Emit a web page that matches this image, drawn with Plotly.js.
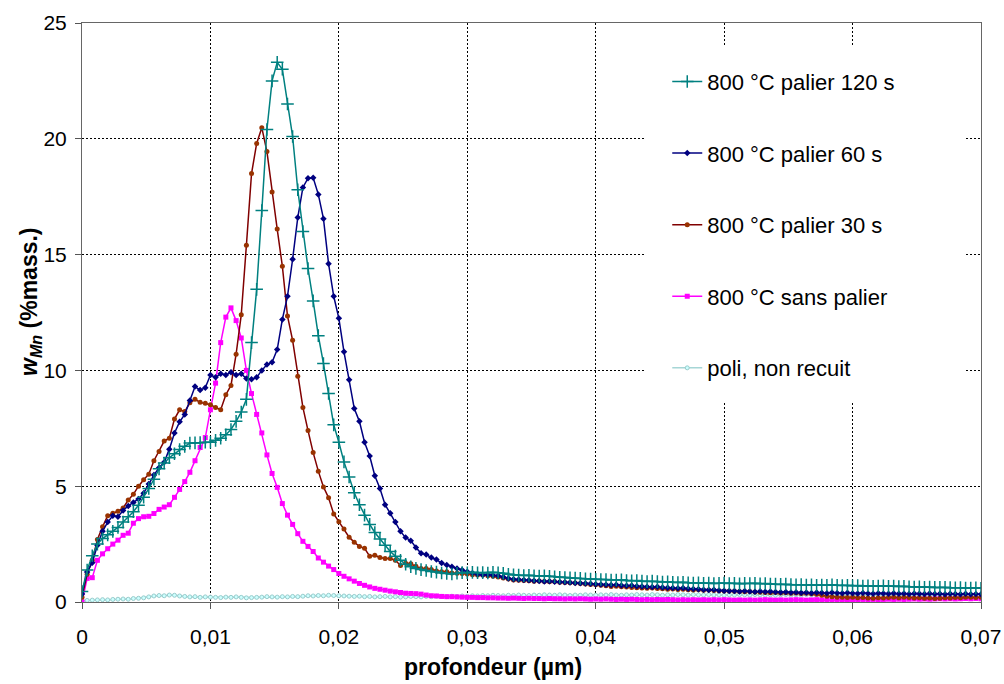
<!DOCTYPE html>
<html>
<head>
<meta charset="utf-8">
<script src="https://cdn.plot.ly/plotly-3.0.1.min.js"></script>
<style>html,body{margin:0;padding:0;background:#fff;}#chart{width:1004px;height:684px;}</style>
</head>
<body>
<div id="chart"></div>
<script>
// depth (µm)
const depth = [
0,0.0004,0.0008,0.0012,0.0016,0.002,0.0024,0.0028,0.0032,0.0036,
0.004,0.0044,0.0048,0.0052,0.0056,0.006,0.0064,0.0068,0.0072,0.0076,
0.008,0.0084,0.0088,0.0092,0.0096,0.01,0.0104,0.0108,0.0112,0.0116,
0.012,0.0124,0.0128,0.0132,0.0136,0.014,0.0144,0.0148,0.0152,0.0156,
0.016,0.0164,0.0168,0.0172,0.0176,0.018,0.0184,0.0188,0.0192,0.0196,
0.02,0.0204,0.0208,0.0212,0.0216,0.022,0.0224,0.0228,0.0232,0.0236,
0.024,0.0244,0.0248,0.0252,0.0256,0.026,0.0264,0.0268,0.0272,0.0276,
0.028,0.0284,0.0288,0.0292,0.0296,0.03,0.0304,0.0308,0.0312,0.0316,
0.032,0.0324,0.0328,0.0332,0.0336,0.034,0.0344,0.0348,0.0352,0.0356,
0.036,0.0364,0.0368,0.0372,0.0376,0.038,0.0384,0.0388,0.0392,0.0396,
0.04,0.0404,0.0408,0.0412,0.0416,0.042,0.0424,0.0428,0.0432,0.0436,
0.044,0.0444,0.0448,0.0452,0.0456,0.046,0.0464,0.0468,0.0472,0.0476,
0.048,0.0484,0.0488,0.0492,0.0496,0.05,0.0504,0.0508,0.0512,0.0516,
0.052,0.0524,0.0528,0.0532,0.0536,0.054,0.0544,0.0548,0.0552,0.0556,
0.056,0.0564,0.0568,0.0572,0.0576,0.058,0.0584,0.0588,0.0592,0.0596,
0.06,0.0604,0.0608,0.0612,0.0616,0.062,0.0624,0.0628,0.0632,0.0636,
0.064,0.0644,0.0648,0.0652,0.0656,0.066,0.0664,0.0668,0.0672,0.0676,
0.068,0.0684,0.0688,0.0692,0.0696,0.07
];

// w_Mn (% mass.)
const palier120 = [
0.45,1.38,2.0,2.5,2.74,2.9,3.05,3.22,3.45,3.68,
3.9,4.18,4.52,4.9,5.3,5.75,6.0,6.23,6.4,6.58,
6.72,6.86,6.87,6.88,6.9,6.9,6.98,7.07,7.22,7.45,
7.8,8.2,8.75,11.2,13.5,16.9,20.4,22.5,23.3,23.0,
21.5,20.1,17.8,16.0,14.4,13.0,11.5,10.3,9.0,7.65,
6.9,6.05,5.4,4.72,4.2,3.75,3.35,3.0,2.72,2.45,
2.18,1.98,1.8,1.63,1.52,1.45,1.4,1.36,1.32,1.29,
1.25,1.23,1.21,1.24,1.27,1.26,1.28,1.26,1.27,1.25,
1.28,1.26,1.24,1.2,1.17,1.16,1.14,1.15,1.13,1.12,
1.13,1.11,1.09,1.07,1.06,1.04,1.03,1.02,1.0,0.99,
0.98,0.97,0.97,0.95,0.95,0.96,0.93,0.92,0.93,0.9,
0.88,0.9,0.88,0.86,0.87,0.85,0.84,0.85,0.83,0.82,
0.83,0.81,0.82,0.8,0.81,0.82,0.8,0.81,0.79,0.81,
0.8,0.81,0.79,0.8,0.78,0.77,0.76,0.77,0.75,0.74,
0.75,0.73,0.74,0.72,0.73,0.72,0.74,0.72,0.71,0.72,
0.7,0.71,0.69,0.7,0.68,0.69,0.7,0.68,0.69,0.67,
0.68,0.66,0.65,0.66,0.64,0.65,0.63,0.63,0.64,0.62,
0.61,0.62,0.6,0.6,0.61,0.59
];

const palier60 = [
0.35,1.3,1.7,2.45,3.05,3.45,3.72,3.68,3.95,4.15,
4.3,4.45,4.7,5.1,5.48,5.8,6.03,6.6,7.3,7.78,
8.1,8.7,9.3,9.15,9.25,9.8,9.7,9.85,9.8,9.92,
9.8,9.85,9.65,9.62,9.7,10.0,10.25,10.35,10.9,12.2,
13.2,14.8,16.6,17.9,18.3,18.32,17.6,16.55,14.6,13.2,
12.25,10.8,9.6,8.35,7.8,6.9,6.3,5.45,4.9,4.2,
3.83,3.45,3.05,2.78,2.65,2.35,2.1,2.05,1.92,1.83,
1.68,1.6,1.52,1.45,1.38,1.31,1.25,1.2,1.17,1.18,
1.16,1.13,1.08,1.02,0.98,0.97,0.95,0.94,0.92,0.91,
0.89,0.9,0.87,0.86,0.85,0.84,0.82,0.81,0.8,0.79,
0.77,0.76,0.75,0.73,0.74,0.71,0.7,0.71,0.68,0.67,
0.66,0.65,0.66,0.63,0.62,0.6,0.59,0.6,0.57,0.56,
0.55,0.53,0.52,0.53,0.5,0.49,0.48,0.47,0.45,0.47,
0.45,0.44,0.46,0.44,0.45,0.43,0.42,0.43,0.41,0.42,
0.4,0.41,0.39,0.41,0.4,0.38,0.41,0.39,0.38,0.4,
0.38,0.37,0.39,0.37,0.36,0.38,0.37,0.36,0.38,0.36,
0.37,0.35,0.37,0.36,0.35,0.37,0.35,0.36,0.34,0.36,
0.35,0.34,0.36,0.34,0.35,0.33
];

const palier30 = [
0.2,1.2,1.8,2.7,3.25,3.72,3.83,3.92,4.06,4.4,
4.65,5.0,5.28,5.52,6.1,6.5,6.95,7.07,7.9,8.3,
8.22,8.6,8.75,8.62,8.58,8.52,8.4,8.3,8.95,9.35,
10.7,12.4,15.4,18.5,19.8,20.48,19.45,17.7,16.1,14.5,
12.35,11.3,9.75,8.4,7.4,6.45,5.65,4.97,4.5,3.8,
3.47,3.15,2.8,2.58,2.4,2.32,1.98,2.02,1.92,1.88,
1.88,1.8,1.58,1.67,1.65,1.54,1.45,1.45,1.4,1.34,
1.31,1.31,1.25,1.24,1.23,1.21,1.18,1.17,1.17,1.13,
1.11,1.08,1.04,0.99,0.95,0.94,0.93,0.92,0.9,0.91,
0.88,0.87,0.88,0.85,0.84,0.83,0.82,0.8,0.78,0.76,
0.74,0.72,0.7,0.67,0.68,0.66,0.65,0.63,0.62,0.6,
0.59,0.6,0.58,0.57,0.55,0.56,0.54,0.55,0.53,0.52,
0.53,0.51,0.52,0.5,0.49,0.48,0.47,0.46,0.45,0.44,
0.45,0.43,0.42,0.41,0.4,0.41,0.39,0.4,0.38,0.39,
0.37,0.38,0.36,0.33,0.29,0.25,0.23,0.21,0.2,0.19,
0.2,0.18,0.19,0.17,0.16,0.18,0.17,0.19,0.2,0.18,
0.2,0.19,0.17,0.18,0.16,0.17,0.15,0.16,0.18,0.17,
0.19,0.18,0.2,0.2,0.19,0.2
];

const sansPalier = [
0.0,1.02,1.05,1.8,2.08,2.3,2.5,2.67,2.88,2.97,
3.4,3.6,3.68,3.7,3.82,4.0,4.1,4.2,4.52,4.86,
5.2,5.6,6.1,6.67,7.1,8.3,9.45,11.2,12.3,12.7,
12.15,11.4,10.0,9.0,8.1,7.3,6.35,5.55,4.95,4.25,
3.75,3.35,2.95,2.62,2.4,2.18,1.9,1.72,1.55,1.4,
1.23,1.11,1.0,0.9,0.8,0.72,0.65,0.59,0.55,0.51,
0.47,0.44,0.41,0.38,0.37,0.36,0.34,0.3,0.27,0.26,
0.24,0.23,0.23,0.22,0.21,0.2,0.2,0.19,0.19,0.18,
0.18,0.17,0.17,0.16,0.17,0.16,0.15,0.16,0.15,0.15,
0.14,0.15,0.14,0.14,0.13,0.14,0.13,0.14,0.13,0.12,
0.13,0.12,0.13,0.12,0.11,0.12,0.11,0.12,0.11,0.1,
0.11,0.1,0.11,0.1,0.11,0.1,0.09,0.1,0.09,0.1,
0.09,0.1,0.09,0.1,0.09,0.1,0.09,0.08,0.09,0.08,
0.09,0.08,0.09,0.1,0.09,0.08,0.09,0.08,0.09,0.1,
0.09,0.08,0.09,0.1,0.09,0.08,0.09,0.1,0.09,0.1,
0.09,0.1,0.11,0.1,0.11,0.1,0.11,0.12,0.11,0.12,
0.11,0.12,0.13,0.12,0.13,0.12,0.13,0.14,0.13,0.14,
0.13,0.14,0.15,0.14,0.15,0.14
];

const poliNonRecuit = [
0.05,0.07,0.08,0.09,0.1,0.09,0.11,0.12,0.13,0.12,
0.15,0.16,0.18,0.22,0.26,0.28,0.27,0.3,0.29,0.26,
0.24,0.22,0.23,0.2,0.22,0.21,0.2,0.19,0.21,0.2,
0.22,0.2,0.18,0.19,0.2,0.21,0.23,0.22,0.21,0.23,
0.22,0.24,0.23,0.25,0.27,0.26,0.28,0.27,0.29,0.28,
0.27,0.26,0.25,0.24,0.25,0.23,0.24,0.22,0.23,0.24,
0.22,0.23,0.21,0.22,0.24,0.23,0.22,0.24,0.23,0.25,
0.24,0.23,0.25,0.24,0.26,0.25,0.27,0.26,0.28,0.27,
0.29,0.28,0.27,0.29,0.28,0.3,0.29,0.28,0.3,0.29,
0.31,0.3,0.29,0.31,0.3,0.28,0.3,0.29,0.31,0.3,
0.29,0.31,0.3,0.32,0.3,0.29,0.31,0.3,0.32,0.31,
0.3,0.32,0.31,0.29,0.31,0.3,0.32,0.31,0.3,0.32,
0.31,0.3,0.32,0.3,0.31,0.29,0.31,0.3,0.32,0.31,
0.3,0.32,0.31,0.3,0.31,0.29,0.31,0.32,0.3,0.31,
0.3,0.32,0.31,0.3,0.32,0.31,0.29,0.31,0.3,0.32,
0.31,0.3,0.32,0.31,0.3,0.31,0.32,0.3,0.31,0.29,
0.31,0.3,0.32,0.31,0.3,0.32,0.31,0.3,0.31,0.32,
0.3,0.31,0.32,0.3,0.31,0.3
];

const seriesNames = ['800 °C palier 120 s','800 °C palier 60 s','800 °C palier 30 s','800 °C sans palier','poli, non recuit'];
const xTitle = 'profondeur (µm)';
const yTitle = '<b><i>w</i><sub><i>Mn</i></sub> (%mass.)</b>';

const FONT = 'Arial, "Liberation Sans", sans-serif';

function tr(y, name, rank, lineColor, marker) {
  return {
    x: depth, y: y, name: name, type: 'scatter', mode: 'lines+markers',
    legendgroup: 'g' + rank, legendrank: rank,
    line: {color: lineColor, width: 1.5},
    marker: marker, cliponaxis: true
  };
}

const traces = [
  tr(poliNonRecuit, seriesNames[4], 5, '#a6d6d6', {symbol: 'circle', size: 4, color: '#ccffff', line: {color: '#99cccc', width: 1}}),
  tr(sansPalier, seriesNames[3], 4, '#ff00ff', {symbol: 'square', size: 5, color: '#ff00ff'}),
  tr(palier30, seriesNames[2], 3, '#800000', {symbol: 'circle', size: 5, color: '#993300'}),
  tr(palier60, seriesNames[1], 2, '#000080', {symbol: 'diamond', size: 5, color: '#000080'}),
  tr(palier120, seriesNames[0], 1, '#008080', {symbol: 'cross-thin', size: 9, color: '#008080', line: {color: '#008080', width: 1.5}})
];

const axisCommon = {
  showgrid: true, gridcolor: '#000000', gridwidth: 1, griddash: '2px,2px',
  ticks: 'outside', ticklen: 6, tickcolor: '#555555', tickwidth: 1,
  showline: true, linecolor: '#666666', linewidth: 1, mirror: true,
  zeroline: false, tickfont: {size: 21, color: '#000000', family: FONT}
};

const layout = {
  width: 1004, height: 684,
  margin: {l: 82, r: 23, t: 23, b: 82, pad: 0},
  paper_bgcolor: '#ffffff', plot_bgcolor: '#ffffff',
  separators: ', ',
  font: {family: FONT, color: '#000000'},
  showlegend: true,
  xaxis: Object.assign({}, axisCommon, {range: [0, 0.07], tick0: 0, dtick: 0.01, ticklabelstandoff: 10}),
  yaxis: Object.assign({}, axisCommon, {range: [0, 25], tick0: 0, dtick: 5, ticklabelstandoff: 4}),
  legend: {
    x: 0.651, xanchor: 'left', y: 0.935, yanchor: 'top',
    bgcolor: 'rgba(255,255,255,0)', borderwidth: 0,
    font: {size: 22, family: FONT, color: '#000000'},
    tracegroupgap: 40, itemwidth: 30, traceorder: 'grouped'
  },
  shapes: [
    {type: 'rect', xref: 'paper', yref: 'paper', x0: 0.626, x1: 0.982, y0: 0.344, y1: 0.962,
     fillcolor: '#ffffff', line: {width: 0}, layer: 'above'}
  ],
  annotations: [
    {text: '<b>' + xTitle + '</b>', xref: 'paper', yref: 'paper', x: (493 - 82) / 899, y: (602 - 667) / 579,
     xanchor: 'center', yanchor: 'middle', showarrow: false, font: {size: 23, family: FONT, color: '#000'}},
    {text: yTitle, xref: 'paper', yref: 'paper', x: (30 - 82) / 899, y: (602 - 302) / 579,
     xanchor: 'center', yanchor: 'middle', textangle: -90, showarrow: false, font: {size: 23, family: FONT, color: '#000'}}
  ]
};

Plotly.newPlot('chart', traces, layout, {displayModeBar: false, staticPlot: true});
</script>
</body>
</html>
